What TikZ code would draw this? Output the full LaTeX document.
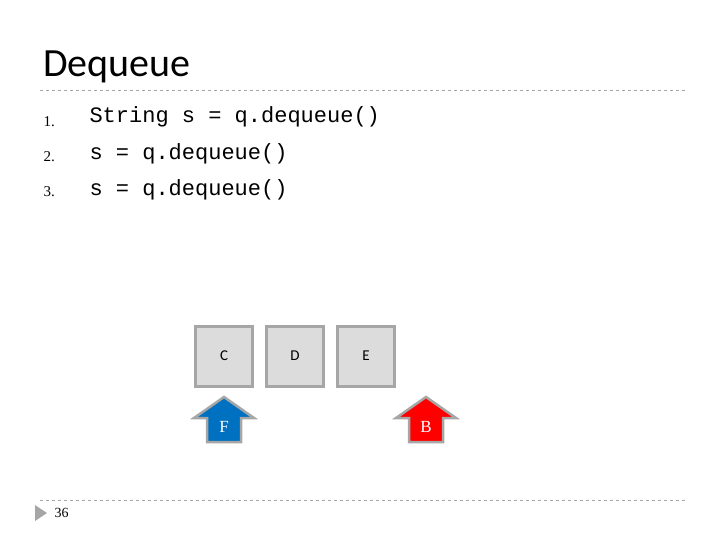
\documentclass[tikz,border=0pt]{standalone}
\usepackage{fontspec}
\setmainfont{Carlito}
\setmonofont{Liberation Mono}
\newfontfamily\numfont{Liberation Serif}
\usetikzlibrary{positioning}

\definecolor{boxgray}{HTML}{DCDCDC}
\definecolor{rimgray}{HTML}{A6A6A6}
\definecolor{ptrblue}{HTML}{0070C0}

\tikzset{
	cell/.style={draw=rimgray, line width=3pt, fill=boxgray, minimum width=57pt, minimum height=60pt, inner sep=0pt, font=\fontsize{15}{15}\selectfont},
	codeline/.style={anchor=west, font=\ttfamily\fontsize{22}{22}\selectfont},
	itemnum/.style={anchor=west, font=\numfont\fontsize{15}{15}\selectfont},
	ptrshape/.style={draw=rimgray, line width=2.5pt, line join=miter},
	ptrlabel/.style={text=white, font=\numfont\fontsize{17}{17}\selectfont}
}

\newcommand{\ptrarrow}[3]{% x centre, fill colour, label
	\fill[#2, ptrshape] (#1,-397) -- (#1+30,-418) -- (#1+17,-418) -- (#1+17,-442) -- (#1-17,-442) -- (#1-17,-418) -- (#1-30,-418) -- cycle;
	\node[ptrlabel] (#3) at (#1,-427) {#3};
}

\begin{document}
\begin{tikzpicture}[x=1pt, y=1pt]
	\useasboundingbox (0,0) rectangle (720,-540);

	% title and rules
	\node[anchor=base west, font=\fontsize{40}{40}\selectfont, inner sep=0pt] (title) at (43,-77) {Dequeue};
	\draw[rimgray, dashed, line width=0.8pt] (40,-90) -- (685,-90);
	\draw[rimgray, dashed, line width=0.8pt] (40,-500) -- (685,-500);

	% code
	\node[itemnum] (n1) at (40,-122) {1.};
	\node[itemnum] (n2) at (40,-157) {2.};
	\node[itemnum] (n3) at (40,-192) {3.};
	\node[codeline] (c1) at (86,-117) {String s = q.dequeue()};
	\node[codeline] (c2) at (86,-154) {s = q.dequeue()};
	\node[codeline] (c3) at (86,-190) {s = q.dequeue()};

	% queue cells
	\node[cell] (C) at (224,-356) {C};
	\node[cell, right=11pt of C] (D) {D};
	\node[cell, right=11pt of D] (E) {E};

	% front / back
	\ptrarrow{224}{ptrblue}{F}
	\ptrarrow{426}{red}{B}

	% footer
	\fill[rimgray] (35,-505) -- (47,-513) -- (35,-521) -- cycle;
	\node[anchor=west, font=\numfont\fontsize{14}{14}\selectfont] (page) at (51,-513) {36};
\end{tikzpicture}
\end{document}
